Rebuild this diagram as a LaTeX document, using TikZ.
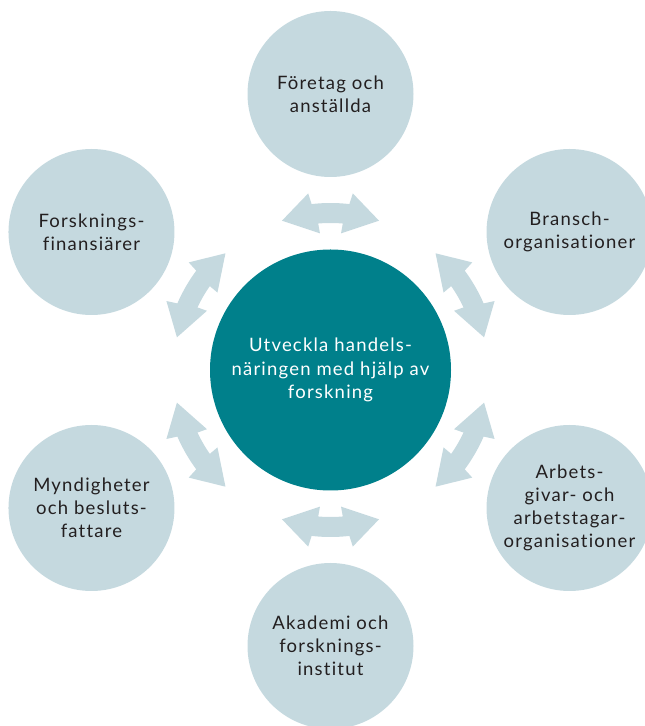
\documentclass[tikz,border=0pt]{standalone}
\usepackage{fontspec}
\setmainfont{Lato}[LetterSpace=6.5,Ligatures=NoCommon]
\usetikzlibrary{calc}
\definecolor{lightc}{HTML}{C5D9DF}
\definecolor{tealc}{HTML}{00808B}
\definecolor{txtc}{HTML}{231F20}
\tikzset{
  outer/.style={circle,fill=lightc,minimum size=166pt,inner sep=0pt,align=center,text=txtc,font=\fontsize{18.5}{23}\selectfont},
  hub/.style={circle,fill=tealc,minimum size=241pt,inner sep=0pt,align=center,text=white,font=\fontsize{18.5}{23.5}\selectfont},
  arrowc/.style={fill=lightc}
}
\newcommand\dblarrow[1]{%
  \fill[arrowc] ($(c)+(#1+18:157)$) -- ($(c)+(#1+7.2:178)$) -- ($(c)+(#1+6.5:167)$)
    arc[start angle=#1+6.5, end angle=#1-6.5, radius=167]
    -- ($(c)+(#1-7.2:178)$) -- ($(c)+(#1-18:157)$) -- ($(c)+(#1-4.4:137)$) -- ($(c)+(#1-4.8:147)$)
    arc[start angle=#1-4.8, end angle=#1+4.8, radius=147]
    -- ($(c)+(#1+4.4:137)$) -- cycle;}
\begin{document}
\begin{tikzpicture}[x=1pt,y=1pt]
\useasboundingbox (0,0) rectangle (645,726);
\clip (0,0) rectangle (645,726);
\coordinate (c) at (330.5,356);
\node[hub] (hub) at (c) {Utveckla handels-\\näringen med hjälp av\\forskning};
\node[outer] (n1) at ($(c)+(90:276)$) {Företag och\\anställda};
\node[outer] (n2) at ($(c)+(30:276)$) {Bransch-\\organisationer};
\node[outer] (n3) at ($(c)+(-30:276)$) {Arbets-\\givar- och\\arbetstagar-\\organisationer};
\node[outer] (n4) at ($(c)+(-90:276)$) {Akademi och\\forsknings-\\institut};
\node[outer] (n5) at ($(c)+(210:276)$) {Myndigheter\\och besluts-\\fattare};
\node[outer] (n6) at ($(c)+(150:276)$) {Forsknings-\\finansiärer};
\foreach \a in {90,30,-30,-90,210,150} {\dblarrow{\a}}
\end{tikzpicture}
\end{document}
